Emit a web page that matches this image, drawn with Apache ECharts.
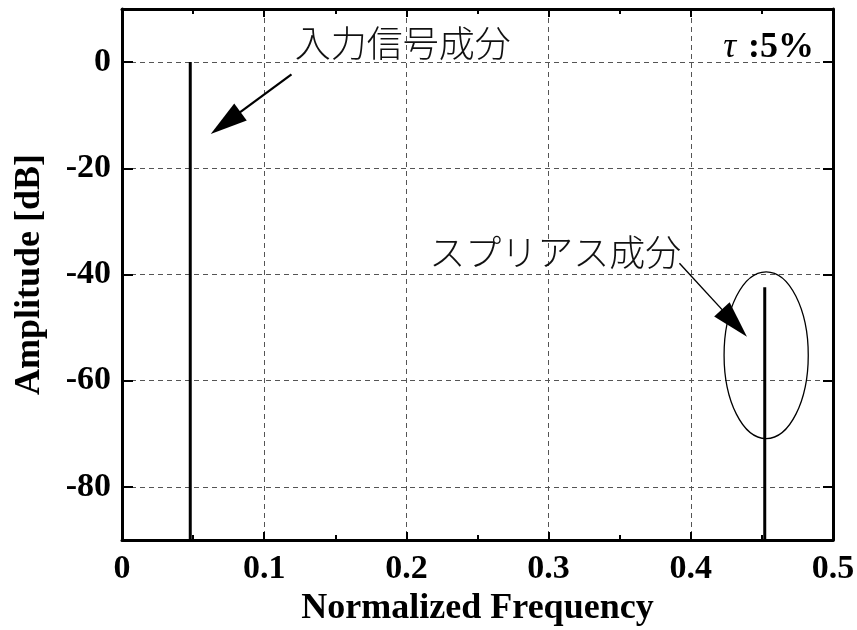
<!DOCTYPE html>
<html><head><meta charset="utf-8">
<script src="https://cdn.jsdelivr.net/npm/echarts@6/dist/echarts.min.js"></script>
<style>html,body{margin:0;padding:0;background:#fff}#c{width:857px;height:630px}</style>
</head><body><div id="c"></div>
<script>
// ---- data ----
const xTickLabels = ['0','0.1','0.2','0.3','0.4','0.5'];
const yTickValues = [-80, -60, -40, -20, 0];
const spikeFreq = [0.048, 0.452];
const spikeAmp = [0, -42.4];
const floorAmp = -90;
const annotationTexts = ['入力信号成分', 'スプリアス成分'];
const textAnchors = [[0.1215, 3.6], [0.2160, -35.8]];
const arrowStarts = [[0.1192, -2.3], [0.392, -37.9]];
const arrowTips = [[0.0624, -13.55], [0.4395, -51.7]];
const ellipseCenter = [0.453, -55.2];
const ellipseRadius = [0.0296, 15.7];

const SERIF = '"Liberation Serif","Times New Roman",serif';
const JP = '"Noto Sans CJK JP","Noto Sans CJK SC",sans-serif';

const chart = echarts.init(document.getElementById('c'), null, {renderer: 'canvas'});

const frame = {show: true, onZero: false, lineStyle: {color: '#000', width: 3}};
const gridLine = {type: [5, 4], color: '#555', width: 1};

const spikes = spikeFreq.map((f, i) => ({
  type: 'line',
  data: [[f, floorAmp], [f, spikeAmp[i]]],
  symbol: 'none',
  lineStyle: {color: '#000', width: 3},
  animation: false,
  z: 5
}));

chart.setOption({
  animation: false,
  grid: {left: 122, right: 24, top: 9, bottom: 90, containLabel: false, outerBoundsMode: 'none'},
  xAxis: [{
    type: 'value', min: 0, max: 0.5, interval: 0.1, position: 'bottom',
    axisLine: frame,
    axisTick: {show: true, inside: true, length: 8, lineStyle: {color: '#000', width: 2}},
    minorTick: {show: true, splitNumber: 2, length: 5, lineStyle: {color: '#000', width: 2}},
    splitLine: {show: true, lineStyle: gridLine},
    axisLabel: {
      formatter: v => xTickLabels[Math.round(v * 10)],
      fontFamily: SERIF, fontWeight: 'bold', fontSize: 34, color: '#000', margin: 12
    },
    name: 'Normalized Frequency', nameLocation: 'middle', nameGap: 49,
    nameTextStyle: {fontFamily: SERIF, fontWeight: 'bold', fontSize: 36, color: '#000'}
  }, {
    type: 'value', min: 0, max: 0.5, interval: 0.1, position: 'top',
    axisLine: frame,
    axisTick: {show: true, inside: true, length: 8, lineStyle: {color: '#000', width: 2}},
    minorTick: {show: true, splitNumber: 2, length: 5, lineStyle: {color: '#000', width: 2}},
    splitLine: {show: false},
    axisLabel: {show: false}
  }],
  yAxis: [{
    type: 'value', min: -90, max: 10, position: 'left',
    axisLine: frame,
    axisTick: {show: true, inside: true, length: 11, customValues: yTickValues, lineStyle: {color: '#000', width: 2}},
    axisLabel: {
      customValues: yTickValues,
      fontFamily: SERIF, fontWeight: 'bold', fontSize: 34, color: '#000', margin: 11
    },
    splitLine: {show: true, lineStyle: gridLine},
    name: 'Amplitude [dB]', nameLocation: 'middle', nameGap: 74, nameRotate: 90,
    nameTextStyle: {fontFamily: SERIF, fontWeight: 'bold', fontSize: 36, color: '#000'}
  }, {
    type: 'value', min: -90, max: 10, position: 'right',
    axisLine: frame,
    axisTick: {show: true, inside: true, length: 10, customValues: yTickValues, lineStyle: {color: '#000', width: 2}},
    axisLabel: {show: false},
    splitLine: {show: false}
  }],
  series: spikes
});

function px(p) { return chart.convertToPixel({xAxisIndex: 0, yAxisIndex: 0}, p); }

const graphics = [];
annotationTexts.forEach((t, i) => {
  const p = px(textAnchors[i]);
  graphics.push({
    type: 'text', x: p[0], y: p[1], z: 10,
    style: {text: t, font: '300 36px ' + JP, fill: '#111', textAlign: 'left', textVerticalAlign: 'middle'}
  });
});
const arrowWidths = [2.2, 1.4];
arrowStarts.forEach((s, i) => {
  const a = px(s), b = px(arrowTips[i]);
  const dx = b[0] - a[0], dy = b[1] - a[1];
  const L = Math.hypot(dx, dy), ux = dx / L, uy = dy / L;
  const headLen = 37, halfW = 10.5;
  const bx = b[0] - ux * headLen, by = b[1] - uy * headLen;
  graphics.push({
    type: 'line', z: 10,
    shape: {x1: a[0], y1: a[1], x2: bx + ux * 2, y2: by + uy * 2},
    style: {stroke: '#000', lineWidth: arrowWidths[i]}
  });
  graphics.push({
    type: 'polygon', z: 10,
    shape: {points: [[b[0], b[1]], [bx - uy * halfW, by + ux * halfW], [bx + uy * halfW, by - ux * halfW]]},
    style: {fill: '#000'}
  });
});
{
  const c = px(ellipseCenter);
  const e = px([ellipseCenter[0] + ellipseRadius[0], ellipseCenter[1] + ellipseRadius[1]]);
  graphics.push({
    type: 'ellipse', z: 10,
    shape: {cx: c[0], cy: c[1], rx: Math.abs(e[0] - c[0]), ry: Math.abs(e[1] - c[1])},
    style: {fill: 'none', stroke: '#000', lineWidth: 1.3}
  });
}
graphics.push({
  type: 'text', right: 43, top: 24, z: 10,
  style: {
    text: '{t|τ}{s| }{b|:5%}',
    rich: {
      t: {font: 'italic 36px ' + SERIF, fill: '#000'},
      s: {font: '48px ' + SERIF, fill: '#000'},
      b: {font: 'bold 36px ' + SERIF, fill: '#000'}
    },
    fill: '#000'
  }
});
chart.setOption({graphic: graphics});
</script>
</body></html>
